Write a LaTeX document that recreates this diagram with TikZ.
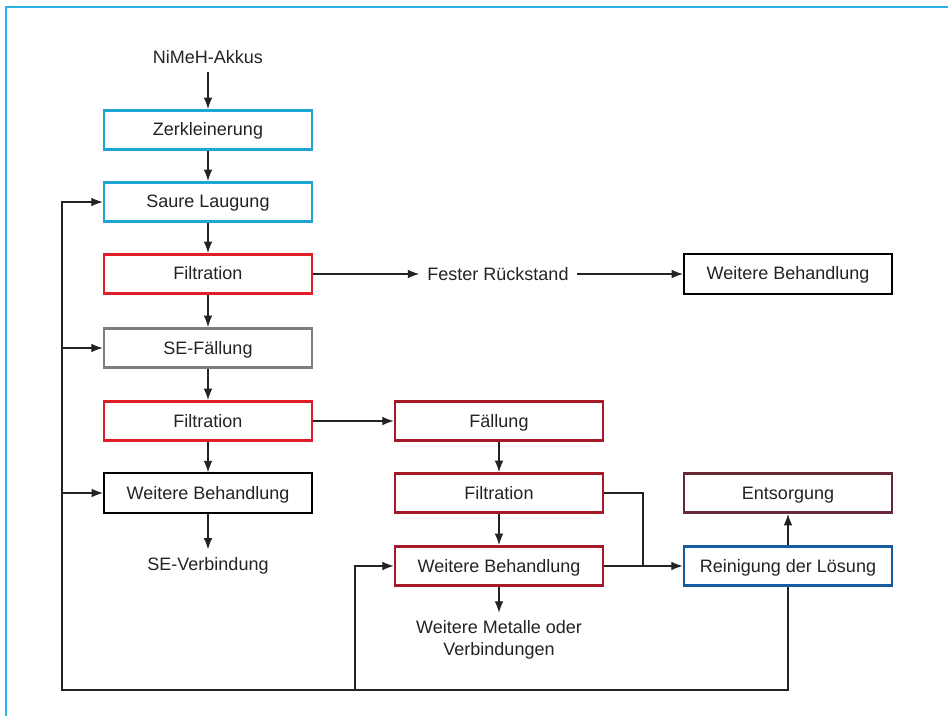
\documentclass[tikz,border=0pt]{standalone}
\usepackage{fontspec}
\setmainfont{Liberation Sans}
\usetikzlibrary{arrows.meta}
\definecolor{framecyan}{RGB}{40,180,230}
\definecolor{boxcyan}{RGB}{30,165,210}
\definecolor{boxred}{RGB}{225,30,40}
\definecolor{boxgray}{RGB}{125,125,125}
\definecolor{boxdarkred}{RGB}{165,25,40}
\definecolor{boxmaroon}{RGB}{105,40,55}
\definecolor{boxblue}{RGB}{25,90,165}
\definecolor{inkgray}{RGB}{35,35,35}
\tikzset{
  box/.style={draw, line width=2pt, minimum width=156pt, minimum height=29.5pt,
    inner sep=0pt, fill=white, text=inkgray, text height=10.8pt, text depth=1.8pt,
    font=\fontsize{13.5}{16}\selectfont},
  lbl/.style={inner sep=6pt, text=inkgray, font=\fontsize{13.5}{16}\selectfont, align=center},
  flow/.style={line width=0.8pt, inkgray, -{Latex[length=8.5pt,width=6.5pt]}},
  link/.style={line width=0.8pt, inkgray}
}
\begin{document}
\begin{tikzpicture}[x=0.75pt,y=-0.75pt]
            \useasboundingbox (0,0) rectangle (948,716);
            \draw[framecyan, line width=1.5pt] (6,716) -- (6,7) -- (948,7);
            % Coordinates
            \coordinate (join) at (643,566);
            \coordinate (loopbl) at (62,690);
            \coordinate (loopmid) at (355,690);
            % Left column
            \node[lbl] (akkus) at (208,57) {NiMeH-Akkus};
            \node[box, draw=boxcyan] (zerk) at (208,130) {Zerkleinerung};
            \node[box, draw=boxcyan] (saure) at (208,202) {Saure Laugung};
            \node[box, draw=boxred] (filtA) at (208,274) {Filtration};
            \node[box, draw=boxgray] (sefall) at (208,348) {SE-Fällung};
            \node[box, draw=boxred] (filtB) at (208,421) {Filtration};
            \node[box, draw=black, line width=1.6pt] (wbse) at (208,493) {Weitere Behandlung};
            \node[lbl] (sever) at (208,566) {SE-Verbindung};
            % Middle column
            \node[lbl] (rueck) at (498,274) {Fester Rückstand};
            \node[box, draw=boxdarkred] (fall) at (499,421) {Fällung};
            \node[box, draw=boxdarkred] (filtC) at (499,493) {Filtration};
            \node[box, draw=boxdarkred] (wbmet) at (499,566) {Weitere Behandlung};
            \node[lbl] (metalle) at (499,640) {Weitere Metalle oder\\Verbindungen};
            % Right column
            \node[box, draw=black, line width=1.6pt] (wbrest) at (788,274) {Weitere Behandlung};
            \node[box, draw=boxmaroon] (ents) at (788,493) {Entsorgung};
            \node[box, draw=boxblue] (rein) at (788,566) {Reinigung der Lösung};
            % Arrows down
            \draw[flow] (akkus) -- (zerk);
            \draw[flow] (zerk) -- (saure);
            \draw[flow] (saure) -- (filtA);
            \draw[flow] (filtA) -- (sefall);
            \draw[flow] (sefall) -- (filtB);
            \draw[flow] (filtB) -- (wbse);
            \draw[flow] (wbse) -- (sever);
            \draw[flow] (fall) -- (filtC);
            \draw[flow] (filtC) -- (wbmet);
            \draw[flow] (wbmet) -- (metalle);
            % Arrows across
            \draw[flow] (filtA) -- (rueck);
            \draw[flow] (rueck) -- (wbrest);
            \draw[flow] (filtB) -- (fall);
            \draw[link] (filtC.east) -| (join);
            \draw[flow] (wbmet) -- (rein);
            \draw[flow] (rein) -- (ents);
            % Return loop
            \draw[flow] (rein.south) |- (loopbl) |- (saure.west);
            \draw[flow] (loopbl |- sefall.west) -- (sefall.west);
            \draw[flow] (loopbl |- wbse.west) -- (wbse.west);
            \draw[flow] (loopmid) |- (wbmet.west);
        \end{tikzpicture}
\end{document}
